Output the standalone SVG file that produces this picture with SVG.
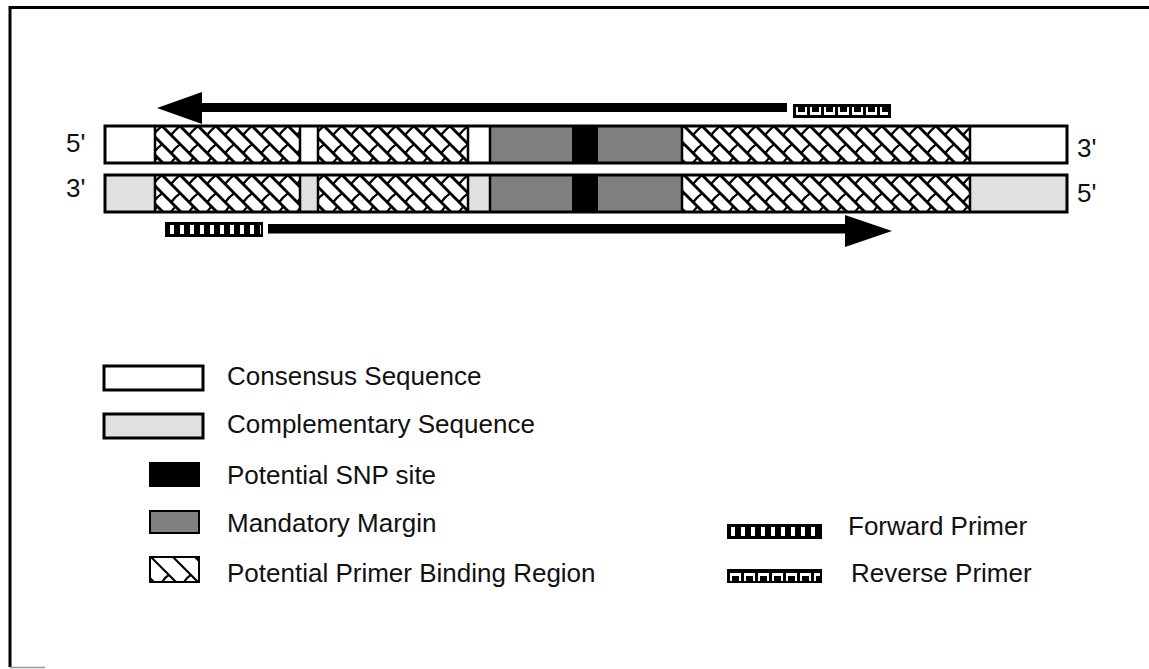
<svg xmlns="http://www.w3.org/2000/svg" width="1149" height="669" viewBox="0 0 1149 669">
<defs>
<style>
.lbl{font-family:"Liberation Sans",Arial,sans-serif;font-size:26px;fill:#111}
.end{font-family:"Liberation Sans",Arial,sans-serif;font-size:26px;fill:#111}
.out{fill:none;stroke:#000;stroke-width:3}
.div{stroke:#000;stroke-width:2.5}
.cons{fill:#fff}
.comp{fill:#e0e0e0}
.marg{fill:#808080}
.snp{fill:#000}
.hatch{fill:url(#weave)}
</style>
<pattern id="weave" patternUnits="userSpaceOnUse" x="0" y="126" width="18" height="49">
<rect width="18" height="49" fill="#fff"/>
<g stroke="#000" stroke-width="3" fill="none">
<path d="M0,0 L37,37 M-18,0 L19,37 M-36,0 L1,37"/>
</g>
<g stroke="#000" stroke-width="2.2" fill="none">
<path d="M9,9 Q14,3 18,0 M-9,9 Q-4,3 0,0 M9,27.5 Q13,22 18,18.5 M-9,27.5 Q-5,22 0,18.5 M9,37 Q12,33 14,31 M-9,37 Q-6,33 -4,31"/>
</g>
</pattern>
<pattern id="weave2" patternUnits="userSpaceOnUse" x="151" y="557" width="22" height="25">
<rect width="22" height="25" fill="#fff"/>
<g stroke="#000" stroke-width="2" fill="none">
<path d="M0,0 L25,25 M22,0 L47,25 M-22,0 L3,25 M11,25 Q14,20 18,18 M-11,25 Q-8,20 -4,18"/>
</g>
</pattern>
</defs>

<g id="frame">
<path d="M1149,7.5 H10 V667" fill="none" stroke="#000" stroke-width="3"/>
<path d="M10,667.5 H45" fill="none" stroke="#999" stroke-width="1.5"/>
</g>

<g id="strand-top">
<rect class="cons" x="105" y="126" width="50" height="37"/>
<rect class="hatch" x="155" y="126" width="145" height="37"/>
<rect class="cons" x="300" y="126" width="18" height="37"/>
<rect class="hatch" x="318" y="126" width="150" height="37"/>
<rect class="cons" x="468" y="126" width="22" height="37"/>
<rect class="marg" x="490" y="126" width="82" height="37"/>
<rect class="snp" x="572" y="126" width="26" height="37"/>
<rect class="marg" x="598" y="126" width="84" height="37"/>
<rect class="hatch" x="682" y="126" width="288" height="37"/>
<rect class="cons" x="970" y="126" width="97" height="37"/>
<path class="div" d="M155,126V163M300,126V163M318,126V163M468,126V163M490,126V163M682,126V163M970,126V163"/>
<rect class="out" x="105" y="126" width="962" height="37"/>
<text class="end" x="66" y="152">5'</text>
<text class="end" x="1077" y="157">3'</text>
</g>

<g id="strand-bottom">
<rect class="comp" x="105" y="175" width="50" height="37"/>
<rect class="hatch" x="155" y="175" width="145" height="37"/>
<rect class="comp" x="300" y="175" width="18" height="37"/>
<rect class="hatch" x="318" y="175" width="150" height="37"/>
<rect class="comp" x="468" y="175" width="22" height="37"/>
<rect class="marg" x="490" y="175" width="82" height="37"/>
<rect class="snp" x="572" y="175" width="26" height="37"/>
<rect class="marg" x="598" y="175" width="84" height="37"/>
<rect class="hatch" x="682" y="175" width="288" height="37"/>
<rect class="comp" x="970" y="175" width="97" height="37"/>
<path class="div" d="M155,175V212M300,175V212M318,175V212M468,175V212M490,175V212M682,175V212M970,175V212"/>
<rect class="out" x="105" y="175" width="962" height="37"/>
<text class="end" x="66" y="197">3'</text>
<text class="end" x="1077" y="202">5'</text>
</g>

<g id="reverse-primer">
<rect x="793" y="104" width="98" height="14" fill="#000"/>
<line x1="796" y1="111" x2="888" y2="111" stroke="#fff" stroke-width="8" stroke-dasharray="11 3"/>
<line x1="798" y1="109.5" x2="888" y2="109.5" stroke="#000" stroke-width="5" stroke-dasharray="7 7"/>
</g>

<g id="forward-primer">
<rect x="165" y="222" width="98" height="15" fill="#000"/>
<line x1="170" y1="229.5" x2="261" y2="229.5" stroke="#fff" stroke-width="9" stroke-dasharray="4 6"/>
</g>

<g id="connectors">
<g id="arrow-reverse">
<rect x="200" y="103" width="587" height="9" fill="#000"/>
<polygon points="157,108 202,92 202,124" fill="#000"/>
</g>
<g id="arrow-forward">
<rect x="268" y="224" width="579" height="9.5" fill="#000"/>
<polygon points="892,231 845,215 845,247" fill="#000"/>
</g>
</g>

<g id="legend-consensus">
<rect x="104" y="366" width="99" height="24" fill="#fff" stroke="#000" stroke-width="3"/>
<text class="lbl" x="227" y="385">Consensus Sequence</text>
</g>
<g id="legend-complementary">
<rect x="104" y="414" width="99" height="24" fill="#e0e0e0" stroke="#000" stroke-width="3"/>
<text class="lbl" x="227" y="433">Complementary Sequence</text>
</g>
<g id="legend-snp">
<rect x="149" y="462" width="51" height="25" fill="#000"/>
<text class="lbl" x="227" y="484">Potential SNP site</text>
</g>
<g id="legend-margin">
<rect x="150" y="511" width="49" height="22" fill="#808080" stroke="#000" stroke-width="2"/>
<text class="lbl" x="227" y="532">Mandatory Margin</text>
</g>
<g id="legend-binding">
<rect x="150" y="557" width="49" height="25" fill="url(#weave2)" stroke="#000" stroke-width="2"/>
<text class="lbl" x="227" y="582">Potential Primer Binding Region</text>
</g>
<g id="legend-forward">
<rect x="727" y="524" width="95" height="15" fill="#000"/>
<line x1="731" y1="531.5" x2="820" y2="531.5" stroke="#fff" stroke-width="9" stroke-dasharray="4 6"/>
<text class="lbl" x="848" y="535">Forward Primer</text>
</g>
<g id="legend-reverse">
<rect x="727" y="569" width="95" height="14" fill="#000"/>
<line x1="730" y1="577" x2="820" y2="577" stroke="#fff" stroke-width="8" stroke-dasharray="11 3"/>
<line x1="732" y1="578.5" x2="820" y2="578.5" stroke="#000" stroke-width="5" stroke-dasharray="7 7"/>
<text class="lbl" x="851" y="582">Reverse Primer</text>
</g>
</svg>
